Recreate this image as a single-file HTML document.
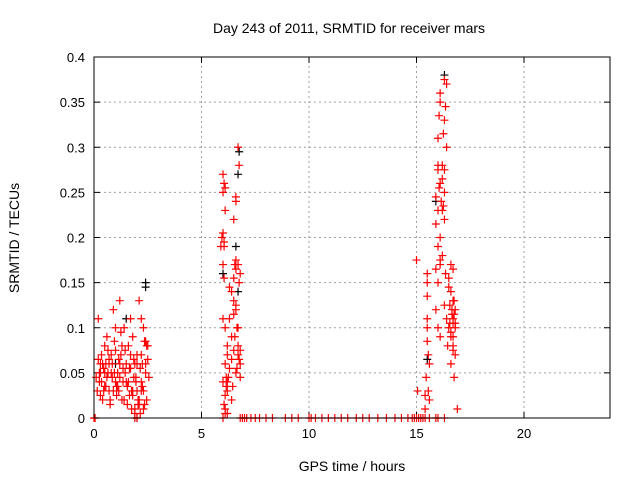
<!DOCTYPE html>
<html><head><meta charset="utf-8"><style>
html,body{margin:0;padding:0;background:#fff;}
svg{display:block;font-family:"Liberation Sans",sans-serif;}
</style></head><body>
<svg id="chart" width="640" height="480">
<rect width="640" height="480" fill="#fff"/>
<text x="349" y="33" text-anchor="middle" font-size="14">Day 243 of 2011, SRMTID for receiver mars</text>
<text x="352" y="471" text-anchor="middle" font-size="14">GPS time / hours</text>
<text transform="translate(19,238) rotate(-90)" text-anchor="middle" font-size="14">SRMTID / TECUs</text>
<g id="grid"></g><g id="ticks"></g><g id="marks"></g>
<rect x="94" y="57" width="516" height="361" fill="none" stroke="#000" stroke-width="1"/>
</svg>
<script>
const xTicks=[0,5,10,15,20];
const yTicks=[0,0.05,0.1,0.15,0.2,0.25,0.3,0.35,0.4];
const yTickLabels=["0","0.05","0.1","0.15","0.2","0.25","0.3","0.35","0.4"];
const redHours=[0.2,0.3,0.25,0.4,0.5,0.6,0.7,0.8,0.9,1.0,1.1,1.2,1.3,1.4,1.5,1.6,1.7,1.8,1.9,2.0,2.1,2.2,2.3,2.4,2.5,0.15,0.35,0.45,0.55,0.65,0.75,0.85,0.95,1.05,1.15,1.25,1.35,1.45,1.55,1.65,1.75,1.85,1.95,2.05,2.15,2.25,2.35,2.45,2.55,1.9,2.0,2.3,1.7,0.5,1.0,1.2,0.3,0.7,2.4,2.2,
0.1,0.2,0.3,0.4,0.5,0.6,0.7,0.8,0.9,1.0,1.1,1.2,1.3,1.4,1.5,1.6,1.7,1.8,1.9,2.0,2.1,2.2,2.3,2.4,2.5,0.25,0.45,0.65,0.85,1.05,1.25,1.45,1.65,1.85,2.05,2.25,2.45,0.35,0.55,0.75,0.95,1.15,1.35,1.55,1.75,1.95,2.15,2.35,1.8,2.0,2.1,2.2,
6.0,6.0,5.95,6.05,6.0,6.1,5.9,6.05,6.6,6.5,6.55,6.6,6.5,6.0,6.1,6.3,6.5,6.6,6.7,6.4,6.2,6.5,6.7,6.8,6.1,6.3,6.6,6.8,6.0,6.2,6.4,6.1,6.2,6.0,6.7,6.75,6.6,6.3,6.4,6.65,6.2,6.45,6.55,6.25,6.7,
6.05,6.1,6.0,6.05,6.6,6.7,6.8,6.75,6.5,6.6,6.4,6.2,6.15,6.1,6.05,6.1,6.15,6.65,6.75,6.8,
16.3,16.4,16.1,16.1,16.35,16.05,16.3,16.25,16.0,16.4,16.2,16.3,16.0,16.1,16.3,15.9,16.2,16.0,16.3,15.9,16.1,16.0,16.2,16.1,15.0,15.5,15.5,15.5,15.9,16.0,16.5,16.5,16.6,16.7,16.8,16.7,16.8,16.6,16.7,16.8,16.6,16.75,15.5,15.5,15.55,15.6,15.5,15.9,16.0,16.1,16.3,16.4,16.5,16.45,15.05,15.4,15.4,16.9,16.1,16.6,16.7,
16.0,16.2,16.15,16.05,16.25,16.35,16.55,16.65,16.7,16.75,16.55,16.6,16.7,16.65,16.75,16.8,16.7,15.55,15.6,15.45];
const redValues=[0.11,0.06,0.04,0.02,0.05,0.09,0.03,0.07,0.12,0.1,0.05,0.13,0.08,0.02,0.06,0.04,0.11,0.09,0.01,0.03,0.13,0.07,0.1,0.05,0.08,0.03,0.07,0.055,0.035,0.075,0.015,0.045,0.085,0.025,0.065,0.095,0.04,0.075,0.015,0.055,0.03,0.065,0.045,0.02,0.055,0.035,0.085,0.02,0.045,0.005,0.0,0.01,0.07,0.08,0.04,0.06,0.05,0.06,0.06,0.11,
0.045,0.065,0.025,0.06,0.035,0.045,0.065,0.05,0.03,0.075,0.035,0.045,0.02,0.1,0.04,0.08,0.055,0.03,0.06,0.07,0.02,0.04,0.03,0.085,0.065,0.05,0.03,0.05,0.06,0.035,0.07,0.05,0.025,0.045,0.015,0.06,0.08,0.04,0.06,0.02,0.05,0.03,0.055,0.035,0.01,0.04,0.005,0.015,0.025,0.06,0.015,0.03,
0.27,0.25,0.2,0.19,0.17,0.23,0.19,0.155,0.24,0.22,0.17,0.165,0.155,0.11,0.1,0.11,0.13,0.12,0.1,0.09,0.08,0.075,0.07,0.06,0.06,0.055,0.05,0.045,0.04,0.03,0.02,0.01,0.005,0.0,0.3,0.28,0.245,0.145,0.14,0.1,0.07,0.035,0.09,0.045,0.08,
0.26,0.255,0.205,0.195,0.175,0.17,0.16,0.15,0.115,0.125,0.065,0.04,0.035,0.025,0.015,0.005,0.045,0.055,0.065,0.075,
0.375,0.37,0.36,0.35,0.345,0.335,0.33,0.315,0.31,0.3,0.28,0.275,0.275,0.26,0.25,0.245,0.23,0.23,0.22,0.215,0.2,0.19,0.18,0.175,0.175,0.16,0.15,0.135,0.165,0.15,0.155,0.145,0.17,0.13,0.12,0.11,0.1,0.09,0.08,0.07,0.06,0.045,0.1,0.085,0.07,0.06,0.11,0.12,0.1,0.09,0.125,0.11,0.1,0.08,0.03,0.025,0.01,0.01,0.17,0.14,0.075,
0.28,0.265,0.24,0.255,0.235,0.16,0.125,0.115,0.105,0.115,0.105,0.095,0.09,0.12,0.13,0.105,0.165,0.03,0.02,0.045];
const zeroHours=[0.0,0.05,1.9,2.0,6.8,6.9,7.0,7.1,7.3,7.5,7.7,8.0,8.3,8.9,9.2,9.5,10.0,10.1,10.3,10.6,10.9,11.2,11.5,11.8,12.2,12.5,12.8,13.2,13.6,14.0,14.3,14.6,14.8,14.9,15.0,15.1,15.2,15.3,15.4,15.6,15.9,16.0,16.3];
const blackHours=[2.4,2.4,1.5,6.75,6.7,6.6,6.0,16.3,15.5,6.7,1.0,15.9];
const blackValues=[0.145,0.15,0.11,0.295,0.27,0.19,0.16,0.38,0.065,0.14,0.06,0.24];
const X0=94,X1=610,Y0=418,Y1=57;
const xs=h=>X0+(h/24)*(X1-X0);
const ys=v=>Y0-(v/0.4)*(Y0-Y1);
const NS="http://www.w3.org/2000/svg";
function mk(tag,attrs,parent){const e=document.createElementNS(NS,tag);for(const k in attrs)e.setAttribute(k,attrs[k]);parent.appendChild(e);return e;}
const grid=document.getElementById('grid'),ticks=document.getElementById('ticks'),marks=document.getElementById('marks');
xTicks.forEach(t=>{const x=xs(t);
 if(t>0){const g=mk('line',{x1:x,x2:x,y1:Y0,y2:Y1,stroke:'#a0a0a0','stroke-dasharray':'2,3'},grid);
 
 }
 mk('line',{x1:x,x2:x,y1:Y0,y2:Y0-6,stroke:'#000'},ticks);
 mk('line',{x1:x,x2:x,y1:Y1,y2:Y1+6,stroke:'#000'},ticks);
 const l=mk('text',{x:x,y:Y0+20,'text-anchor':'middle','font-size':'13'},ticks);l.textContent=String(t);
 
 
});
yTicks.forEach((t,i)=>{const y=ys(t);
 if(i>0&&i<yTicks.length-1){const g=mk('line',{x1:X0,x2:X1,y1:y,y2:y,stroke:'#a0a0a0','stroke-dasharray':'2,3'},grid);
 
 }
 mk('line',{x1:X0,x2:X0+6,y1:y,y2:y,stroke:'#000'},ticks);
 mk('line',{x1:X1,x2:X1-6,y1:y,y2:y,stroke:'#000'},ticks);
 const l=mk('text',{x:X0-9,y:y+5,'text-anchor':'end','font-size':'13'},ticks);l.textContent=yTickLabels[i];
 
 
});
function plus(h,v,color,name){const x=xs(h),y=ys(v);
 const p=mk('path',{d:`M${x-4},${y}h8M${x},${y-4}v8`,stroke:color,'stroke-width':'1.2'},marks);
 
 }
blackHours.forEach((h,i)=>plus(h,blackValues[i],'#000','black-point'));
redHours.forEach((h,i)=>plus(h,redValues[i],'#f00','red-point'));
zeroHours.forEach(h=>plus(h,0,'#f00','zero-point'));
</script>
</body></html>
